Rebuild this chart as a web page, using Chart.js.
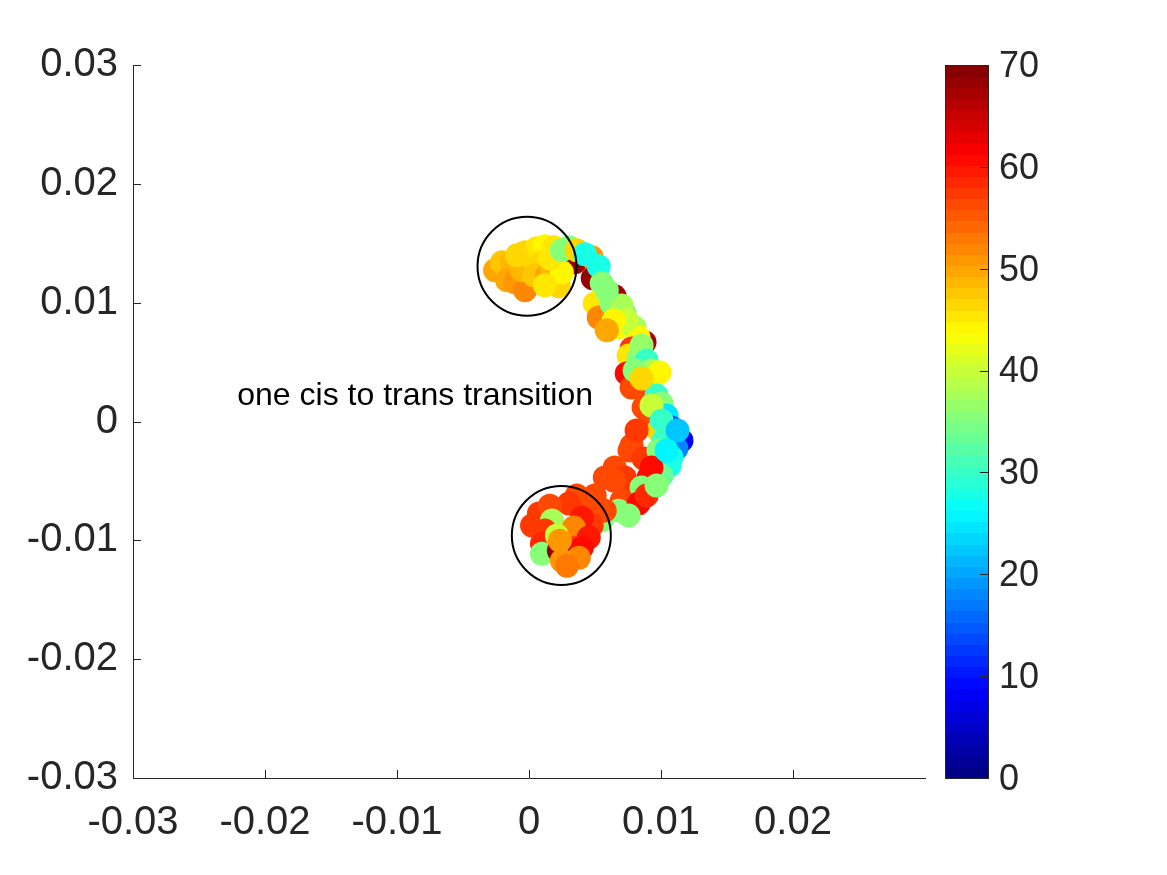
<!DOCTYPE html>
<html>
<head>
<meta charset="utf-8">
<script src="https://cdn.jsdelivr.net/npm/chart.js@4.4.0/dist/chart.umd.min.js"></script>
<style>
  html, body { margin: 0; padding: 0; background: #fff; }
</style>
</head>
<body>
<canvas id="myChart" width="1167" height="875"></canvas>
<script>
// scatter points (x, y, colour value), drawn in this order
const xValues = [
    0.00347, 0.00483, 0.00649, 0.00875,
    -0.00257, -0.00204, -0.00128, -0.00166, -0.00106, -0.00030, -0.00053, 0.00023, -0.00030, 0.00060,
    0.00121, 0.00189, 0.00098, 0.00038, 0.00136, 0.00174, 0.00226, 0.00249, 0.00158, -0.00091,
    0.00249, 0.00302, 0.00121, 0.00362,
    0.00475, 0.00423, 0.00528, 0.00551, 0.00498, 0.00528, 0.00626, 0.00725, 0.00679, 0.00800,
    0.00830, 0.00702, 0.00740, 0.00777, 0.00755, 0.00830, 0.00853, 0.00891, 0.00928, 0.00740,
    0.00777, 0.00875, 0.00928, 0.00989, 0.00966, 0.00868, 0.01004, 0.01042, 0.00913, 0.00981,
    0.01079, 0.01094, 0.01155, 0.01117, 0.01019, 0.00777, 0.00762, 0.00868, 0.00981, 0.01079,
    0.01064, 0.01004, 0.00928, 0.00649, 0.00574, 0.00725, 0.00906, 0.00777, 0.00853, 0.00702,
    0.00498, 0.00679, 0.00830, 0.00551, 0.00574,
    0.00589, 0.00642, 0.00589, 0.00800, 0.00853, 0.00928, 0.01004, 0.01125, 0.01042, 0.00815,
    0.00642, 0.00475, 0.00755, 0.00891, 0.00966, 0.00362,
    0.00075, 0.00302, 0.00158, 0.00023, 0.00174, 0.00121, 0.00475, 0.00400, 0.00340, 0.00453,
    0.00098, 0.00211, 0.00098, 0.00347, 0.00400, 0.00226, 0.00377, 0.00249, 0.00287, 0.00234
];
const yValues = [
    0.01340, 0.01205, 0.01053, 0.00666,
    0.01272, 0.01340, 0.01340, 0.01188, 0.01171, 0.01104, 0.01272, 0.01373, 0.01424, 0.01457,
    0.01474, 0.01466, 0.01340, 0.01230, 0.01230, 0.01289, 0.01137, 0.01255, 0.01373, 0.01398,
    0.01441, 0.01466, 0.01146, 0.01441,
    0.01382, 0.01407, 0.01306, 0.01163, 0.00994, 0.00876, 0.00994, 0.00910, 0.00792, 0.00792,
    0.00708, 0.00977, 0.00851, 0.00615, 0.00556, 0.00531, 0.00640, 0.00514, 0.00430, 0.00404,
    0.00286, 0.00261, 0.00345, 0.00413, 0.00219, 0.00118, 0.00152, 0.00051, -0.00008, -0.00076,
    -0.00051, -0.00135, -0.00160, -0.00227, -0.00160, -0.00202, -0.00244, -0.00312, -0.00244, -0.00303,
    -0.00371, -0.00455, -0.00388, -0.00388, -0.00472, -0.00472, -0.00472, -0.00581, -0.00556, -0.00666,
    -0.00623, -0.00750, -0.00691, -0.00834, -0.00750,
    0.01104, 0.00851, 0.00767, 0.00430, 0.00362, 0.00135, 0.00008, -0.00076, -0.00244, -0.00076,
    -0.00497, -0.00708, -0.00792, -0.00623, -0.00539, -0.00623,
    -0.00775, -0.00691, -0.00708, -0.00876, -0.00834, -0.00918, -0.00876, -0.00809, -0.00893, -0.00977,
    -0.01028, -0.00960, -0.01112, -0.01062, -0.01062, -0.01087, -0.01146, -0.01171, -0.01213, -0.01003
];
const colorValues = [
    68, 68, 67, 67,
    50, 48, 49, 50, 51, 52, 49, 47, 46, 45,
    44, 45, 46, 48, 50, 49, 46, 44, 45, 47,
    36, 36, 45, 46,
    51, 28, 28, 35, 45, 52, 35, 36, 44, 38,
    44, 38, 40, 57, 45, 35, 37, 30, 38, 61,
    56, 56, 35, 44, 30, 56, 35, 25, 56, 47,
    15, 20, 8, 18, 30, 56, 56, 57, 35, 28,
    28, 33, 61, 56, 56, 57, 61, 57, 35, 56,
    56, 35, 61, 35, 56,
    36, 44, 50, 36, 46, 40, 30, 22, 26, 57,
    56, 56, 36, 58, 35, 56,
    57, 57, 56, 57, 38, 57, 57, 60, 52, 60,
    59, 40, 36, 56, 61, 68, 52, 51, 53, 51
];

// the two marked regions
const circleX = [-0.00015, 0.00245];
const circleY = [0.01306, -0.00960];

const xTicks = [-0.03, -0.02, -0.01, 0, 0.01, 0.02];
const xTickLabels = ['-0.03', '-0.02', '-0.01', '0', '0.01', '0.02'];
const yTicks = [-0.03, -0.02, -0.01, 0, 0.01, 0.02, 0.03];
const yTickLabels = ['-0.03', '-0.02', '-0.01', '0', '0.01', '0.02', '0.03'];
const colorTicks = [0, 10, 20, 30, 40, 50, 60, 70];
const colorMin = 0;
const colorMax = 70;

const noteText = 'one cis to trans transition';
const noteX = -0.0221;
const noteY = 0.0021;

const axisColor = '#262626';
const fontFamily = "'Liberation Sans', Arial, Helvetica, sans-serif";

function jet(v) {
    let i = Math.floor((v - colorMin) / (colorMax - colorMin) * 64);
    i = Math.max(0, Math.min(63, i));
    const t = (i + 0.5) / 64;
    const c = x => Math.round(255 * Math.max(0, Math.min(1, x)));
    const r = c(Math.min(4 * t - 1.5, -4 * t + 4.5));
    const g = c(Math.min(4 * t - 0.5, -4 * t + 3.5));
    const b = c(Math.min(4 * t + 0.5, -4 * t + 2.5));
    return 'rgb(' + r + ',' + g + ',' + b + ')';
}

const points = xValues.map((x, i) => ({ x: x, y: yValues[i] }));
const pointColors = colorValues.map(v => jet(v));

const extras = {
    id: 'extras',
    afterDraw(chart) {
        const ctx = chart.ctx;
        const xs = chart.scales.x;
        const ys = chart.scales.y;
        const area = chart.chartArea;

        ctx.save();
        // inward tick marks
        ctx.strokeStyle = axisColor;
        ctx.lineWidth = 1;
        ctx.beginPath();
        xTicks.forEach(v => {
            const px = Math.round(xs.getPixelForValue(v)) + 0.5;
            ctx.moveTo(px, area.bottom);
            ctx.lineTo(px, area.bottom - 8);
        });
        yTicks.forEach(v => {
            const py = Math.round(ys.getPixelForValue(v)) + 0.5;
            ctx.moveTo(area.left, py);
            ctx.lineTo(area.left + 8, py);
        });
        ctx.stroke();

        // annotation
        ctx.fillStyle = '#000';
        ctx.font = '32px ' + fontFamily;
        ctx.textAlign = 'left';
        ctx.textBaseline = 'middle';
        ctx.fillText(noteText, xs.getPixelForValue(noteX), ys.getPixelForValue(noteY));

        // colorbar
        const cbLeft = 945;
        const cbRight = 988;
        const cbTop = area.top;
        const cbBottom = area.bottom;
        const h = cbBottom - cbTop;
        for (let i = 0; i < 64; i++) {
            const v0 = colorMin + (colorMax - colorMin) * i / 64;
            const y1 = cbBottom - h * i / 64;
            const y0 = cbBottom - h * (i + 1) / 64;
            ctx.fillStyle = jet(v0 + 0.01);
            ctx.fillRect(cbLeft, Math.floor(y0), cbRight - cbLeft, Math.ceil(y1) - Math.floor(y0));
        }
        ctx.strokeStyle = axisColor;
        ctx.lineWidth = 1;
        ctx.strokeRect(cbLeft + 0.5, cbTop + 0.5, cbRight - cbLeft, h);
        ctx.beginPath();
        colorTicks.forEach(v => {
            const py = Math.round(cbBottom - h * (v - colorMin) / (colorMax - colorMin)) + 0.5;
            ctx.moveTo(cbRight, py);
            ctx.lineTo(cbRight - 8, py);
        });
        ctx.stroke();
        ctx.fillStyle = axisColor;
        ctx.font = '36px ' + fontFamily;
        ctx.textAlign = 'left';
        ctx.textBaseline = 'middle';
        colorTicks.forEach(v => {
            const py = cbBottom - h * (v - colorMin) / (colorMax - colorMin);
            ctx.fillText(String(v), cbRight + 11, py + 2);
        });
        ctx.restore();
    }
};

const myChart = new Chart(document.getElementById('myChart'), {
    type: 'scatter',
    data: {
        datasets: [
            {
                label: 'regions',
                data: circleX.map((x, i) => ({ x: x, y: circleY[i] })),
                pointRadius: 49.5,
                pointHoverRadius: 49.5,
                backgroundColor: 'rgba(0,0,0,0)',
                borderColor: '#000',
                borderWidth: 2,
                order: 0
            },
            {
                label: 'frames',
                data: points,
                pointRadius: 12,
                pointHoverRadius: 12,
                backgroundColor: pointColors,
                borderWidth: 0,
                order: 1
            }
        ]
    },
    plugins: [extras],
    options: {
        animation: false,
        responsive: false,
        devicePixelRatio: 1,
        events: [],
        layout: {
            padding: { left: 0, top: 65, right: 242, bottom: 0 }
        },
        plugins: {
            legend: { display: false },
            tooltip: { enabled: false }
        },
        scales: {
            x: {
                type: 'linear',
                min: -0.03,
                max: 0.03,
                afterBuildTicks: scale => { scale.ticks = xTicks.map(v => ({ value: v })); },
                afterFit: scale => { scale.height = 97; },
                grid: { display: false, drawTicks: false },
                border: { display: true, color: axisColor, width: 1 },
                ticks: {
                    padding: 21,
                    color: axisColor,
                    font: { family: fontFamily, size: 40 },
                    maxRotation: 0,
                    autoSkip: false,
                    callback: v => xTickLabels[xTicks.indexOf(v)]
                }
            },
            y: {
                type: 'linear',
                min: -0.03,
                max: 0.03,
                afterBuildTicks: scale => { scale.ticks = yTicks.map(v => ({ value: v })); },
                afterFit: scale => { scale.width = 133; },
                grid: { display: false, drawTicks: false },
                border: { display: true, color: axisColor, width: 1 },
                ticks: {
                    padding: 15,
                    color: axisColor,
                    font: { family: fontFamily, size: 40 },
                    autoSkip: false,
                    callback: v => yTickLabels[yTicks.indexOf(v)]
                }
            }
        }
    }
});
</script>
</body>
</html>
